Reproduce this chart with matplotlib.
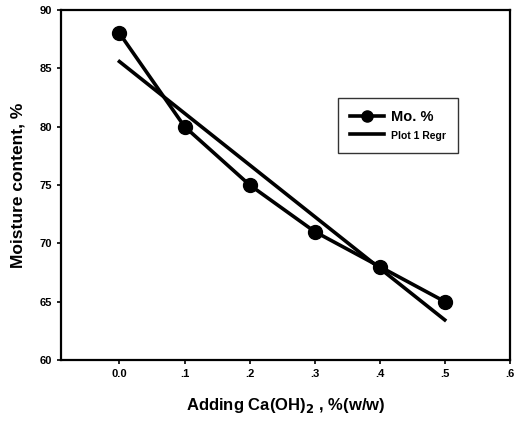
import numpy as np
import matplotlib
matplotlib.use("Agg")
import matplotlib.pyplot as plt

plt.rcParams['font.family'] = ['Liberation Sans', 'DejaVu Sans']

# data
ca_oh = [0.0, 0.1, 0.2, 0.3, 0.4, 0.5]
moisture = [88, 80, 75, 71, 68, 65]
xticks = [0.0, 0.1, 0.2, 0.3, 0.4, 0.5, 0.6]
xticklabels = ['0.0', '.1', '.2', '.3', '.4', '.5', '.6']
yticks = [60, 65, 70, 75, 80, 85, 90]

# linear regression of the data
slope, icept = np.polyfit(ca_oh, moisture, 1)
reg_x = np.array([ca_oh[0], ca_oh[-1]])
reg_y = icept + slope * reg_x

fig = plt.figure(figsize=(5.16, 4.3), dpi=100)
ax = fig.add_axes([0.118, 0.163, 0.870, 0.814])

ax.plot(ca_oh, moisture, color='black', lw=2.6, marker='o', ms=10,
        label='Mo. %')
ax.plot(reg_x, reg_y, color='black', lw=2.6, label='Plot 1 Regr')

ax.set_xlim(-0.09, 0.6)
ax.set_ylim(60, 90)
ax.set_xticks(xticks)
ax.set_xticklabels(xticklabels)
ax.set_yticks(yticks)
ax.tick_params(direction='out', length=3, width=1.2, labelsize=8,
               top=False, right=False)
for lab in ax.get_xticklabels() + ax.get_yticklabels():
    lab.set_fontweight('bold')
for s in ax.spines.values():
    s.set_linewidth(1.6)

ax.set_xlabel('Adding Ca(OH)$_\\mathbf{2}$ , %(w/w)', fontsize=12,
              fontweight='bold', labelpad=12)
ax.set_ylabel('Moisture content, %', fontsize=12.5, fontweight='bold',
              labelpad=10)

leg = ax.legend(loc='upper left', bbox_to_anchor=(0.617, 0.749),
                borderaxespad=0, frameon=True, fancybox=False,
                edgecolor='black', handlelength=2.4, borderpad=0.9,
                labelspacing=0.35, handletextpad=0.5)
leg.get_frame().set_linewidth(1.0)
leg.legend_handles[0].set_markersize(8)
texts = leg.get_texts()
texts[0].set_fontsize(10.5)
texts[0].set_fontweight('bold')
texts[1].set_fontsize(7.5)
texts[1].set_fontweight('bold')

fig.savefig('out.png', dpi=100)
